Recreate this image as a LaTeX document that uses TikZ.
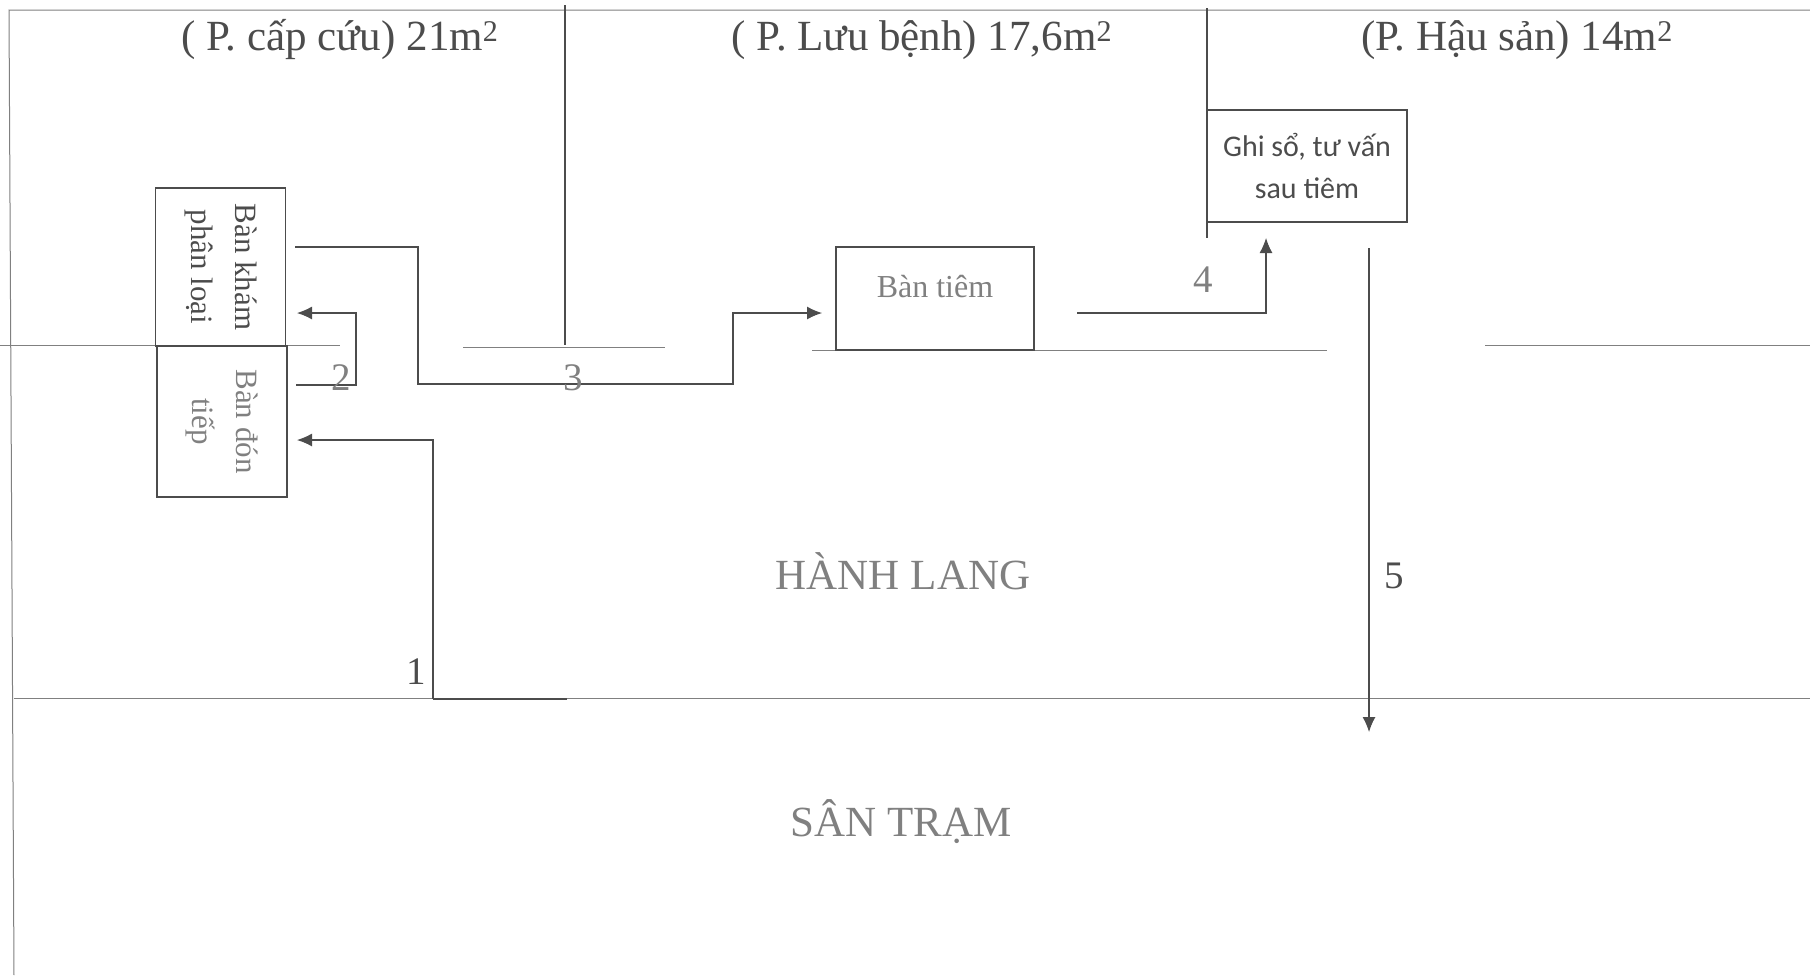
\documentclass[tikz,border=0pt]{standalone}
\usepackage{fontspec}
\setmainfont{Liberation Serif}
\newfontfamily\boxfont{Carlito}
\definecolor{scanblack}{gray}{0.3}
\definecolor{scangray}{gray}{0.5}
\tikzset{
  wall/.style={scangray,line width=1pt},
  wallin/.style={scanblack,line width=1.2pt},
  flow/.style={scanblack,line width=1.1pt},
  flowtip/.style={flow,-{Latex[length=15pt,width=13pt]}},
  roomname/.style={scanblack,font=\fontsize{43}{50}\selectfont},
  areaname/.style={scangray,font=\fontsize{43}{50}\selectfont},
  stepnum/.style={scangray,font=\fontsize{39}{44}\selectfont},
  deskv/.style={draw=scanblack,line width=1.3pt,rotate=-90,align=center,inner sep=0pt,font=\fontsize{31}{44}\selectfont},
}
\usetikzlibrary{arrows.meta}
\begin{document}
\begin{tikzpicture}[x=1pt,y=-1pt]
\useasboundingbox (0,0) rectangle (1810,975);
% outer walls
\draw[wall] (1810,10)--(9,10)--(14,975);
\draw[wall] (14,698)--(1810,698);
\draw[wallin] (565,5)--(565,345);
\draw[wallin] (1207,8)--(1207,238);
\draw[wall] (0,345)--(340,345);
\draw[wall] (463,347)--(665,347);
\draw[wall] (812,350)--(1327,350);
\draw[wall] (1485,345)--(1810,345);
% room names
\node[roomname] (capcuu) at (340,40) {( P. cấp cứu) 21m\textsuperscript{2}};
\node[roomname] (luubenh) at (922,40) {( P. Lưu bệnh) 17,6m\textsuperscript{2}};
\node[roomname] (hausan) at (1517,40) {(P. Hậu sản) 14m\textsuperscript{2}};
\node[areaname] (hanhlang) at (903,571) {HÀNH LANG};
\node[areaname] (santram) at (901,822) {SÂN TRẠM};
% desks
\node[deskv,text=scanblack,minimum width=158pt,minimum height=130pt] (bankham) at (220.5,267) {Bàn khám\\phân loại};
\node[deskv,text=scangray,minimum width=151pt,minimum height=130pt] (bandon) at (222,421.5) {Bàn đón\\tiếp};
\node[draw=scanblack,line width=1.2pt,text=scangray,minimum width=198pt,minimum height=103pt,inner sep=0pt,text depth=25pt,font=\fontsize{32}{38}\selectfont] (bantiem) at (935,298.5) {Bàn tiêm};
\node[draw=scanblack,line width=1.3pt,text=scanblack,minimum width=200pt,minimum height=112pt,inner sep=0pt,align=center,font=\boxfont\fontsize{30}{42}\selectfont] (ghiso) at (1307,166) {Ghi sổ, tư vấn\\sau tiêm};
% flow points
\coordinate (a1) at (567,699);
\coordinate (b1) at (433,699);
\coordinate (c1) at (433,440);
\coordinate (d1) at (297,440);
\coordinate (a2) at (296,385);
\coordinate (b2) at (356,385);
\coordinate (c2) at (356,313);
\coordinate (d2) at (297,313);
\coordinate (a3) at (295,247);
\coordinate (b3) at (418,247);
\coordinate (c3) at (418,384);
\coordinate (d3) at (733,384);
\coordinate (e3) at (733,313);
\coordinate (f3) at (822,313);
\coordinate (a4) at (1077,313);
\coordinate (b4) at (1266,313);
\coordinate (c4) at (1266,238);
\coordinate (a5) at (1369,248);
\coordinate (b5) at (1369,732);
\draw[flow,line width=2pt] (a1)--(b1);
\draw[flowtip] (b1)--(c1)--(d1);
\draw[flowtip] (a2)--(b2)--(c2)--(d2);
\draw[flowtip] (a3)--(b3)--(c3)--(d3)--(e3)--(f3);
\draw[flowtip] (a4)--(b4)--(c4);
\draw[flowtip] (a5)--(b5);
% step numbers
\node[stepnum,text=scanblack] (s1) at (416,672) {1};
\node[stepnum] (s2) at (341,378) {2};
\node[stepnum] (s3) at (573,378) {3};
\node[stepnum] (s4) at (1203,280) {4};
\node[stepnum,text=scanblack] (s5) at (1394,576) {5};
\end{tikzpicture}
\end{document}
